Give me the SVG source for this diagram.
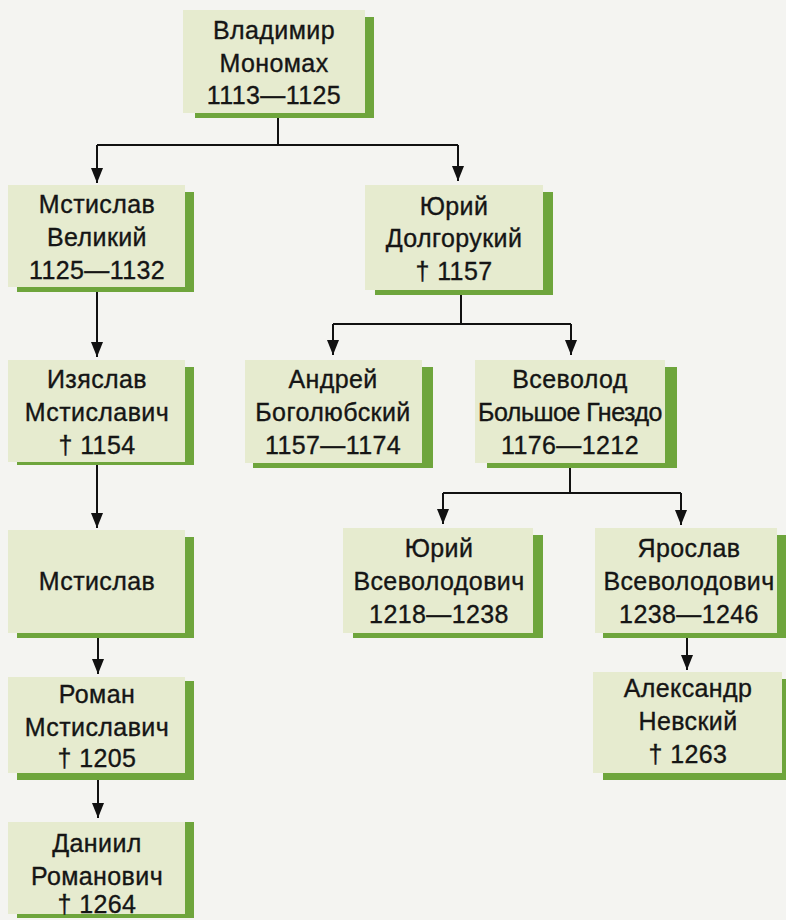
<svg xmlns="http://www.w3.org/2000/svg" width="786" height="920" viewBox="0 0 786 920">
<defs>
<marker id="ah" viewBox="0 0 15 12" refX="15" refY="6" markerWidth="15" markerHeight="12" markerUnits="userSpaceOnUse" orient="auto">
<path d="M0,0 L15,6 L0,12 Z" fill="#111"/>
</marker>
</defs>
<style>
.bg{fill:#f4f4f1}
.sh{fill:#6ea53c}
.bx{fill:#e6ebcf}
.t{font-family:"Liberation Sans",Arial,sans-serif;font-size:25px;letter-spacing:0.4px;fill:#151515;stroke:#151515;stroke-width:0.35px;text-anchor:middle}
.c{fill:none;stroke:#111;stroke-width:2}
</style>
<rect class="bg" x="0" y="0" width="786" height="920"/>
<g id="connectors">
<path class="c" d="M278,113 V145 M97,145 H458"/>
<line class="c" x1="97" y1="145" x2="97" y2="183" marker-end="url(#ah)"/>
<line class="c" x1="458" y1="145" x2="458" y2="181" marker-end="url(#ah)"/>
<line class="c" x1="97" y1="292" x2="97" y2="357" marker-end="url(#ah)"/>
<path class="c" d="M461,295 V324 M333,324 H571"/>
<line class="c" x1="333" y1="324" x2="333" y2="355" marker-end="url(#ah)"/>
<line class="c" x1="571" y1="324" x2="571" y2="355" marker-end="url(#ah)"/>
<line class="c" x1="97" y1="465" x2="97" y2="528" marker-end="url(#ah)"/>
<path class="c" d="M570,468 V493 M443,493 H681"/>
<line class="c" x1="443" y1="493" x2="443" y2="524" marker-end="url(#ah)"/>
<line class="c" x1="681" y1="493" x2="681" y2="525" marker-end="url(#ah)"/>
<line class="c" x1="98" y1="638" x2="98" y2="674" marker-end="url(#ah)"/>
<line class="c" x1="98" y1="780" x2="98" y2="818" marker-end="url(#ah)"/>
<line class="c" x1="687" y1="638" x2="687" y2="670" marker-end="url(#ah)"/>
</g>
<g id="vladimir">
<rect class="sh" x="195" y="17" width="179" height="101"/>
<rect class="bx" x="183" y="10" width="182" height="103"/>
<text class="t" x="274" y="39">Владимир</text>
<text class="t" x="274" y="72">Мономах</text>
<text class="t" x="274" y="104">1113—1125</text>
</g>
<g id="mstislav-velikiy">
<rect class="sh" x="17" y="192" width="177" height="100"/>
<rect class="bx" x="8" y="185" width="177" height="102"/>
<text class="t" x="97" y="213">Мстислав</text>
<text class="t" x="97" y="246">Великий</text>
<text class="t" x="97" y="279">1125—1132</text>
</g>
<g id="yuriy-dolgorukiy">
<rect class="sh" x="375" y="192" width="178" height="103"/>
<rect class="bx" x="365" y="185" width="178" height="105"/>
<text class="t" x="454" y="215">Юрий</text>
<text class="t" x="454" y="247">Долгорукий</text>
<text class="t" x="454" y="280">† 1157</text>
</g>
<g id="izyaslav">
<rect class="sh" x="17" y="367" width="177" height="98"/>
<rect class="bx" x="8" y="360" width="177" height="102"/>
<text class="t" x="97" y="388">Изяслав</text>
<text class="t" x="97" y="421">Мстиславич</text>
<text class="t" x="97" y="454">† 1154</text>
</g>
<g id="andrey">
<rect class="sh" x="253" y="367" width="180" height="101"/>
<rect class="bx" x="245" y="360" width="177" height="103"/>
<text class="t" x="333" y="388">Андрей</text>
<text class="t" x="333" y="421">Боголюбский</text>
<text class="t" x="333" y="454">1157—1174</text>
</g>
<g id="vsevolod">
<rect class="sh" x="487" y="367" width="190" height="101"/>
<rect class="bx" x="475" y="360" width="190" height="103"/>
<text class="t" x="570" y="388">Всеволод</text>
<text class="t" x="570" y="421" style="letter-spacing:-0.5px">Большое Гнездо</text>
<text class="t" x="570" y="454">1176—1212</text>
</g>
<g id="mstislav">
<rect class="sh" x="17" y="537" width="177" height="101"/>
<rect class="bx" x="8" y="530" width="177" height="103"/>
<text class="t" x="97" y="590">Мстислав</text>
</g>
<g id="yuriy-vsevolodovich">
<rect class="sh" x="353" y="535" width="190" height="103"/>
<rect class="bx" x="343" y="528" width="190" height="105"/>
<text class="t" x="439" y="557">Юрий</text>
<text class="t" x="439" y="590">Всеволодович</text>
<text class="t" x="439" y="623">1218—1238</text>
</g>
<g id="yaroslav">
<rect class="sh" x="603" y="535" width="183" height="103"/>
<rect class="bx" x="595" y="528" width="182" height="105"/>
<text class="t" x="689" y="557">Ярослав</text>
<text class="t" x="689" y="590">Всеволодович</text>
<text class="t" x="689" y="623">1238—1246</text>
</g>
<g id="roman">
<rect class="sh" x="17" y="681" width="177" height="99"/>
<rect class="bx" x="8" y="677" width="177" height="96"/>
<text class="t" x="97" y="703">Роман</text>
<text class="t" x="97" y="736">Мстиславич</text>
<text class="t" x="97" y="767">† 1205</text>
</g>
<g id="aleksandr">
<rect class="sh" x="603" y="679" width="183" height="101"/>
<rect class="bx" x="593" y="672" width="189" height="101"/>
<text class="t" x="688" y="697">Александр</text>
<text class="t" x="688" y="730">Невский</text>
<text class="t" x="688" y="763">† 1263</text>
</g>
<g id="daniil">
<rect class="sh" x="17" y="822" width="177" height="96"/>
<rect class="bx" x="8" y="822" width="177" height="92"/>
<text class="t" x="97" y="852">Даниил</text>
<text class="t" x="97" y="885">Романович</text>
<text class="t" x="97" y="913">† 1264</text>
</g>
</svg>
